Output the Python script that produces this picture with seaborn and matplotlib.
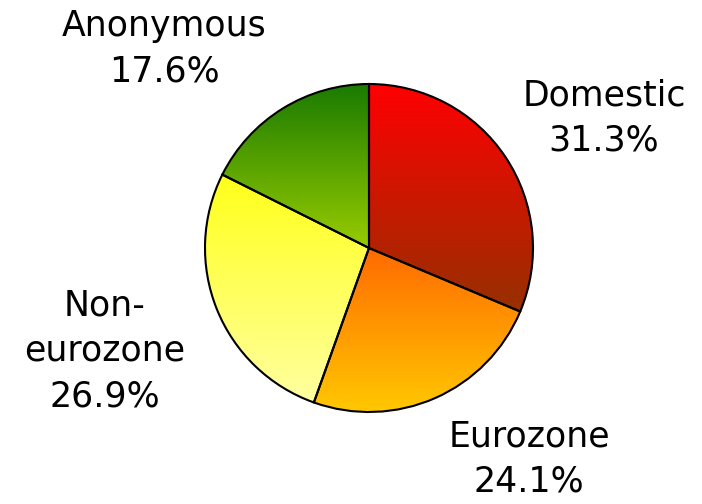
import matplotlib
matplotlib.use("Agg")
import matplotlib.pyplot as plt
import numpy as np
import seaborn as sns
from matplotlib.colors import LinearSegmentedColormap

labels = ["Domestic", "Eurozone", "Non-\neurozone", "Anonymous"]
shares = [31.3, 24.1, 26.9, 17.6]
# gradient colours, top -> bottom of each slice
top_colors = ["#ff0000", "#ff6a00", "#ffff1a", "#1a7a00"]
bottom_colors = ["#963000", "#ffc800", "#ffffa0", "#98cc00"]

sns.set_theme(style="white")
plt.rcParams['font.family'] = ['DejaVu Sans']

fig = plt.figure(figsize=(7.02, 5.04), dpi=100)
ax = fig.add_axes([0, 0, 1, 1])

R = 164.0
cx, cy = 369, 256  # pie centre in pixels (from bottom-left)

wedges, _ = ax.pie(shares, startangle=90, counterclock=False, radius=1,
                   colors=["none"] * len(shares),
                   wedgeprops=dict(edgecolor="black", linewidth=1.5))

for w, c0, c1 in zip(wedges, top_colors, bottom_colors):
    cmap = LinearSegmentedColormap.from_list("g", [c0, c1])
    bb = w.get_path().get_extents(w.get_transform() - ax.transData)
    grad = np.linspace(0, 1, 256).reshape(-1, 1)
    im = ax.imshow(grad, cmap=cmap, aspect="auto",
                   extent=[bb.x0, bb.x1, bb.y0, bb.y1], origin="upper",
                   zorder=0)
    im.set_clip_path(w)
    w.set_zorder(1)

ax.set_xlim(-cx / R, (702 - cx) / R)
ax.set_ylim(-cy / R, (504 - cy) / R)
ax.set_aspect("equal")
ax.axis("off")

# label block centres (pixels from top-left)
label_pos = [(604, 118), (529, 459), (105, 351), (164, 49)]
for lab, val, (px, py) in zip(labels, shares, label_pos):
    ax.text((px - cx) / R, ((504 - py) - cy) / R, f"{lab}\n{val}%",
            ha="center", va="center", fontsize=25, linespacing=1.42,
            color="black")

fig.savefig("out.png", dpi=100)
